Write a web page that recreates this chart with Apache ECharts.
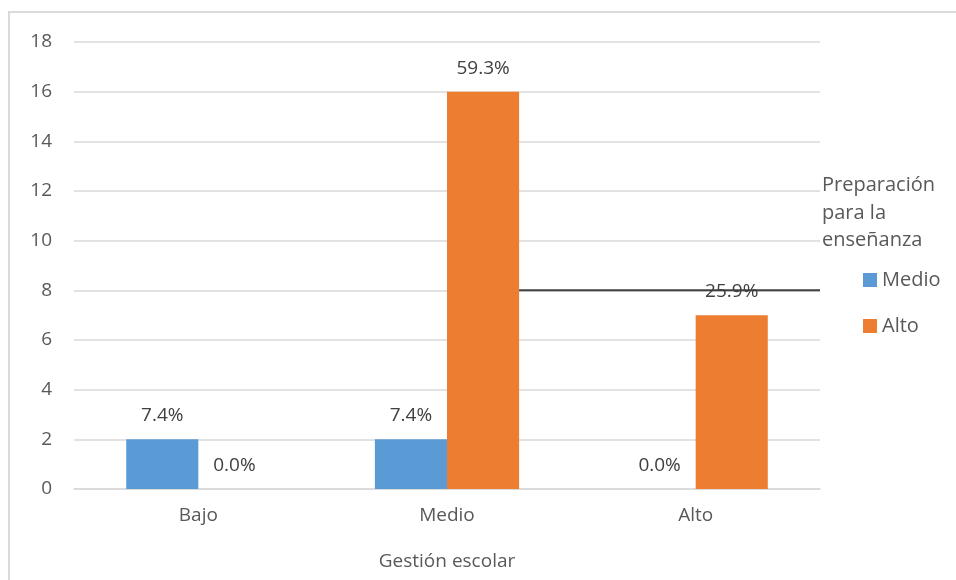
<!DOCTYPE html>
<html>
<head>
<meta charset="utf-8">
<script src="https://cdn.jsdelivr.net/npm/echarts@6/dist/echarts.min.js"></script>
<style>
html, body { margin: 0; padding: 0; background: #fff; }
#main { width: 956px; height: 580px; }
</style>
</head>
<body>
<div id="main"></div>
<script>
var categories = ['Bajo', 'Medio', 'Alto'];
var medioValues = [2, 2, 0];
var altoValues = [0, 16, 7];
var yTicks = [0, 18, 2]; // min, max, interval
var refLineValue = 8;

var total = 0;
medioValues.concat(altoValues).forEach(function (v) { total += v; });

function pct(p) {
    return (p.value / total * 100).toFixed(1) + '%';
}

var font = 'Open Sans';
var chart = echarts.init(document.getElementById('main'));
var option = {
    animation: false,
    textStyle: { fontFamily: font },
    legend: {
        orient: 'vertical',
        left: 858,
        top: 265,
        itemWidth: 14,
        itemHeight: 14,
        itemGap: 26,
        icon: 'rect',
        textStyle: { fontSize: 20, color: '#595959', fontFamily: font },
        data: ['Medio', 'Alto']
    },
    grid: { left: 74, right: 136, top: 42, bottom: 91, outerBoundsMode: 'none' },
    xAxis: {
        type: 'category',
        data: categories,
        name: 'Gestión escolar',
        nameLocation: 'middle',
        nameGap: 63,
        nameTextStyle: { fontSize: 19, color: '#595959' },
        axisLine: { lineStyle: { color: '#d9d9d9', width: 1.5 } },
        axisTick: { show: false },
        axisLabel: { fontSize: 19, color: '#595959', margin: 17 }
    },
    yAxis: {
        type: 'value',
        min: yTicks[0],
        max: yTicks[1],
        interval: yTicks[2],
        axisLine: { show: false },
        axisTick: { show: false },
        axisLabel: { fontSize: 19, color: '#595959', margin: 22 },
        splitLine: { lineStyle: { color: '#d9d9d9', width: 1.5 } }
    },
    series: [{
        name: 'Medio',
        type: 'bar',
        data: medioValues,
        barWidth: '29%',
        barGap: '0%',
        itemStyle: { color: '#5b9bd5' },
        label: { show: true, position: 'top', distance: 14, formatter: pct, fontSize: 19, color: '#404040' }
    }, {
        name: 'Alto',
        type: 'bar',
        data: altoValues,
        barWidth: '29%',
        barGap: '0%',
        itemStyle: { color: '#ed7d31' },
        label: { show: true, position: 'top', distance: 14, formatter: pct, fontSize: 19, color: '#404040' }
    }]
};
chart.setOption(option);

// stray dark line at y = 8 from the right edge of the Medio/Alto bar to the plot edge
var pMedio = chart.convertToPixel({ gridIndex: 0 }, ['Medio', refLineValue]);
var pAlto = chart.convertToPixel({ gridIndex: 0 }, ['Alto', refLineValue]);
var band = pAlto[0] - pMedio[0];
chart.setOption({
    graphic: [{
        type: 'rect',
        shape: { x: 9, y: 12, width: 1000, height: 700 },
        style: { fill: 'none', stroke: '#d9d9d9', lineWidth: 2 }
    }, {
        type: 'text',
        left: 822,
        top: 172,
        style: {
            text: 'Preparación\npara la\nenseñanza',
            font: '20px "Open Sans"',
            fill: '#595959',
            lineHeight: 27.5
        }
    }, {
        type: 'line',
        z: 10,
        shape: { x1: pMedio[0] + band * 0.29, y1: pMedio[1], x2: pAlto[0] + band * 0.5, y2: pAlto[1] },
        style: { stroke: '#404040', lineWidth: 2 }
    }]
});
</script>
</body>
</html>
